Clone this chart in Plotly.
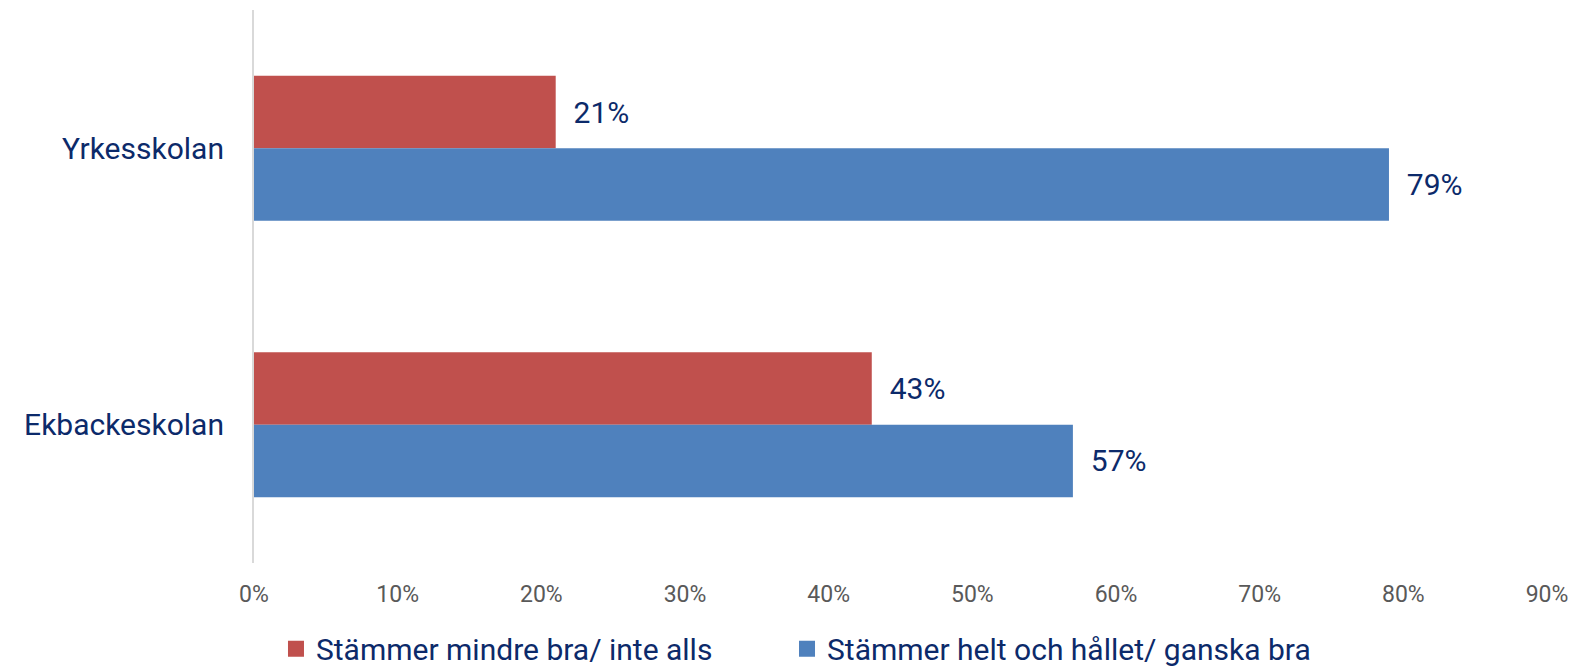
import plotly.graph_objects as go

categories = ["Yrkesskolan", "Ekbackeskolan"]
series_names = ["Stämmer mindre bra/ inte alls", "Stämmer helt och hållet/ ganska bra"]
values_red = [0.21, 0.43]
values_blue = [0.79, 0.57]
colors = ["#C0504D", "#4F81BD"]
tick_vals = [i / 10 for i in range(10)]
tick_text = [f"{i*10}%" for i in range(10)]

FONT = "Roboto, sans-serif"
NAVY = "#0C2A6A"

fig = go.Figure()
for name, vals, col in zip(series_names, [values_red, values_blue], colors):
    fig.add_trace(go.Bar(
        y=categories, x=vals, name=name, orientation="h",
        marker=dict(color=col, line=dict(width=0)),
        text=[f"{round(v*100)}%" for v in vals],
        textposition="outside",
        texttemplate="  %{text}",
        textfont=dict(size=30, color=NAVY, family=FONT),
        cliponaxis=False,
        showlegend=False,
        legendgroup=name,
    ))
# legend entries with larger square swatches, one legend box per entry
legend_ids = ["legend", "legend2"]
for name, col, lg in zip(series_names, colors, legend_ids):
    fig.add_trace(go.Scatter(
        x=[None], y=[None], mode="markers", name=name, legendgroup=name,
        marker=dict(symbol="square", size=17, color=col),
        showlegend=True, legend=lg,
    ))

legend_common = dict(orientation="h", xref="container", yref="container",
                     xanchor="left", y=0.0292, yanchor="middle",
                     font=dict(size=30, color=NAVY, family=FONT),
                     itemwidth=30, bgcolor="rgba(0,0,0,0)")

fig.update_layout(
    width=1569, height=660,
    barmode="group", bargap=0.476, bargroupgap=0,
    plot_bgcolor="white", paper_bgcolor="white",
    margin=dict(l=246, r=30, t=2, b=105, autoexpand=False),
    font=dict(family=FONT),
    xaxis=dict(range=[0, 0.9], tickvals=tick_vals, ticktext=tick_text,
               showgrid=False, zeroline=False, showline=False,
               automargin=False,
               tickfont=dict(size=23, color="#595959", family=FONT),
               ticklabelstandoff=15),
    yaxis=dict(autorange="reversed", showgrid=False, zeroline=False,
               automargin=False,
               showline=True, linecolor="#D9D9D9", linewidth=2,
               tickfont=dict(size=30, color=NAVY, family=FONT),
               ticklabelstandoff=22),
    legend=dict(x=0.1708, **legend_common),
    legend2=dict(x=0.4965, **legend_common),
    showlegend=True,
)

fig.write_html("out.html")
